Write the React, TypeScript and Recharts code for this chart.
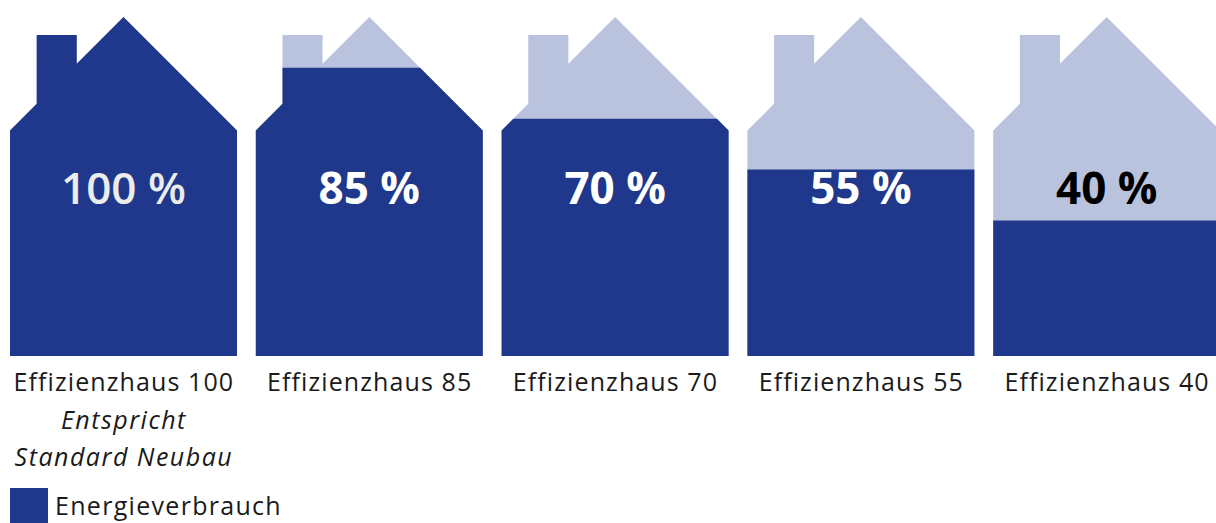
import React from "react";
import { BarChart, Bar, XAxis, YAxis, Legend, LabelList } from "recharts";

const categories = [
  "Effizienzhaus 100",
  "Effizienzhaus 85",
  "Effizienzhaus 70",
  "Effizienzhaus 55",
  "Effizienzhaus 40",
];
const values = [100, 85, 70, 55, 40];
const valueLabels = ["100 %", "85 %", "70 %", "55 %", "40 %"];
const subLabels = [["Entspricht", "Standard Neubau"], [], [], [], []];
const seriesName = "Energieverbrauch";

const DARK = "#1f388b";
const LIGHT = "#bac3dd";
const labelColors = ["#ececec", "#ffffff", "#ffffff", "#ffffff", "#000000"];
const labelWeights = [600, 700, 700, 700, 700];
const FONT = "'Open Sans', sans-serif";

const data = categories.map((name, i) => ({
  name,
  value: values[i],
  label: valueLabels[i],
  sub: subLabels[i],
}));

function housePath(x: number, top: number, w: number, h: number) {
  const bottom = top + h;
  const eave = top + w / 2;
  const c1 = x + w * 0.1176;
  const c2 = x + w * 0.294;
  const ct = top + h * 0.053;
  return [
    `M${x},${bottom}`,
    `L${x},${eave}`,
    `L${c1},${eave - (c1 - x)}`,
    `L${c1},${ct}`,
    `L${c2},${ct}`,
    `L${c2},${eave - (c2 - x)}`,
    `L${x + w / 2},${top}`,
    `L${x + w},${eave}`,
    `L${x + w},${bottom}`,
    "Z",
  ].join(" ");
}

// full house = 100 %, dark part clipped to the bar height
const HouseShape = (props: any) => {
  const { x, y, width, height, value, index } = props;
  const fullH = (height * 100) / value;
  const top = y + height - fullH;
  const d = housePath(x, top, width, fullH);
  const id = `house-clip-${index}`;
  return (
    <g>
      <defs>
        <clipPath id={id}>
          <rect x={x - 1} y={y} width={width + 2} height={height + 1} />
        </clipPath>
      </defs>
      <path d={d} fill={LIGHT} />
      <path d={d} fill={DARK} clipPath={`url(#${id})`} />
    </g>
  );
};

const HouseLabel = (props: any) => {
  const { x, y, width, height, value, index } = props;
  const v = values[index];
  const fullH = (height * 100) / v;
  const top = y + height - fullH;
  return (
    <text
      x={x + width / 2}
      y={top + fullH * 0.551}
      textAnchor="middle"
      fontFamily={FONT}
      fontSize={44}
      fontWeight={labelWeights[index]}
      fill={labelColors[index]}
    >
      {value}
    </text>
  );
};

const CategoryTick = (props: any) => {
  const { x, y, payload, index } = props;
  const sub = subLabels[index] || [];
  return (
    <g>
      <text
        x={x}
        y={y + 27}
        textAnchor="middle"
        fontFamily={FONT}
        fontSize={25}
        letterSpacing={1.1}
        fill="#1a1a1a"
      >
        {payload.value}
      </text>
      {sub.map((s: string, i: number) => (
        <text
          key={s}
          x={x}
          y={y + 27 + 37.5 * (i + 1)}
          textAnchor="middle"
          fontFamily={FONT}
          fontSize={25}
          fontStyle="italic"
          letterSpacing={1.5}
          fill="#1a1a1a"
        >
          {s}
        </text>
      ))}
    </g>
  );
};

const LegendContent = () => (
  <div style={{ display: "flex", alignItems: "center", height: 35, paddingLeft: 9 }}>
    <div style={{ width: 38, height: 35, background: DARK }} />
    <span
      style={{
        marginLeft: 7,
        fontFamily: FONT,
        fontSize: 25,
        letterSpacing: 1.3,
        color: "#1a1a1a",
        lineHeight: "35px",
      }}
    >
      {seriesName}
    </span>
  </div>
);

export default function App() {
  return (
    <div
      style={{
        position: "absolute",
        left: 0,
        top: 0,
        width: 1216,
        height: 523,
        overflow: "hidden",
        background: "#fff",
      }}
    >
      <BarChart
        width={1230}
        height={523}
        data={data}
        margin={{ top: 17, right: 0, left: 1, bottom: 0 }}
        barSize={227}
      >
        <XAxis
          dataKey="name"
          axisLine={false}
          tickLine={false}
          interval={0}
          height={132}
          tick={<CategoryTick />}
        />
        <YAxis hide domain={[0, 100]} />
        <Legend
          verticalAlign="bottom"
          align="left"
          height={35}
          content={<LegendContent />}
        />
        <Bar dataKey="value" name={seriesName} shape={<HouseShape />} isAnimationActive={false}>
          <LabelList dataKey="label" content={<HouseLabel />} />
        </Bar>
      </BarChart>
    </div>
  );
}
